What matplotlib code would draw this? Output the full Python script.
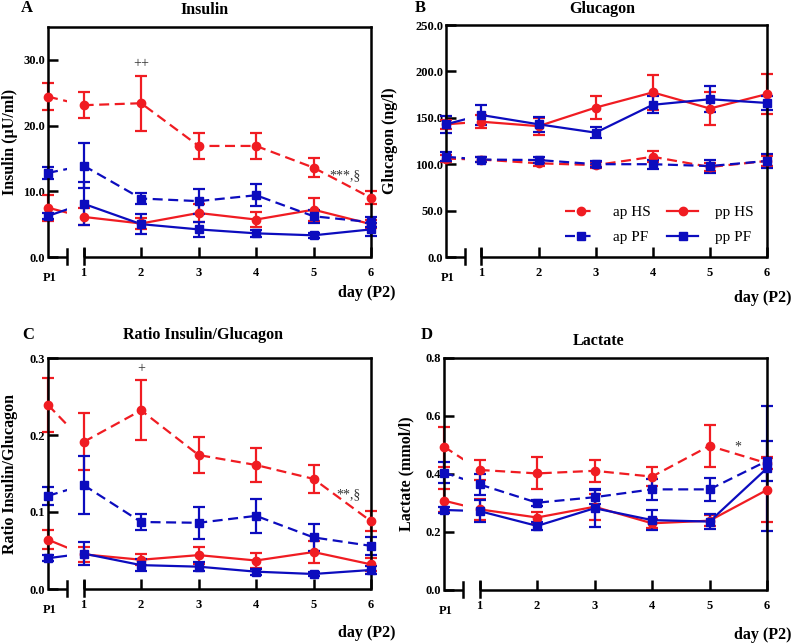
import numpy as np
import matplotlib
matplotlib.use("Agg")
import matplotlib.pyplot as plt
from matplotlib.patches import Rectangle

plt.rcParams['font.family'] = ['Liberation Serif', 'DejaVu Serif']

# x positions: first value is P1, then days 1..6 of P2
days = [1, 2, 3, 4, 5, 6]
day_labels = ["1", "2", "3", "4", "5", "6"]
x_p1 = 0.38
x_break = 0.71

# Insulin (uU/ml)
ins_ap_hs = [24.4, 23.1, 23.4, 16.9, 16.9, 13.6, 9.0]
ins_ap_hs_err = [2.05, 2.0, 4.2, 1.95, 2.0, 1.45, 1.0]
ins_pp_hs = [7.5, 6.1, 5.1, 6.7, 5.7, 7.2, 5.0]
ins_pp_hs_err = [2.0, 1.3, 0.8, 1.4, 1.2, 1.75, 0.6]
ins_ap_pf = [12.8, 13.9, 8.9, 8.5, 9.4, 6.2, 5.3]
ins_ap_pf_err = [0.95, 3.4, 0.85, 1.9, 1.7, 1.0, 0.8]
ins_pp_pf = [6.25, 8.1, 5.0, 4.2, 3.6, 3.3, 4.2]
ins_pp_pf_err = [0.5, 3.3, 1.5, 1.2, 0.5, 0.4, 1.0]

# Glucagon (ng/l)
glu_ap_hs = [106, 105, 101, 99, 108, 97, 103.5]
glu_ap_hs_err = [4, 3, 3, 3, 6, 4, 5]
glu_pp_hs = [143, 145.8, 141, 161, 177.4, 160, 175.6]
glu_pp_hs_err = [5, 7, 9, 12, 19, 18, 22]
glu_ap_pf = [108, 105, 104.5, 100, 100, 98, 103.5]
glu_ap_pf_err = [5, 3, 3, 3, 5, 7, 8]
glu_pp_pf = [143, 153, 143, 134, 164, 170, 166]
glu_pp_pf_err = [9, 11, 8, 6, 9, 14, 8]

# Ratio insulin/glucagon
rat_ap_hs = [0.239, 0.191, 0.232, 0.174, 0.161, 0.143, 0.088]
rat_ap_hs_err = [0.035, 0.037, 0.039, 0.023, 0.0225, 0.018, 0.013]
rat_pp_hs = [0.064, 0.045, 0.038, 0.044, 0.037, 0.048, 0.032]
rat_pp_hs_err = [0.012, 0.01, 0.007, 0.011, 0.01, 0.014, 0.008]
rat_ap_pf = [0.121, 0.135, 0.087, 0.086, 0.095, 0.067, 0.056]
rat_ap_pf_err = [0.012, 0.038, 0.01, 0.021, 0.022, 0.017, 0.012]
rat_pp_pf = [0.040, 0.046, 0.031, 0.029, 0.0225, 0.0195, 0.0247]
rat_pp_pf_err = [0.004, 0.015, 0.008, 0.006, 0.004, 0.003, 0.005]

# Lactate (mmol/l)
lac_ap_hs = [0.494, 0.414, 0.402, 0.411, 0.391, 0.497, 0.437]
lac_ap_hs_err = [0.069, 0.035, 0.055, 0.038, 0.034, 0.072, 0.02]
lac_pp_hs = [0.308, 0.278, 0.25, 0.287, 0.23, 0.239, 0.345]
lac_pp_hs_err = [0.04, 0.035, 0.02, 0.045, 0.015, 0.02, 0.11]
lac_ap_pf = [0.405, 0.364, 0.301, 0.32, 0.347, 0.347, 0.445]
lac_ap_pf_err = [0.036, 0.035, 0.01, 0.025, 0.037, 0.04, 0.07]
lac_pp_pf = [0.276, 0.272, 0.221, 0.282, 0.241, 0.236, 0.42]
lac_pp_pf_err = [0.01, 0.038, 0.015, 0.065, 0.034, 0.025, 0.215]

RED = '#f01c22'
BLUE = '#0c0cbe'
DASH = (0, (4.5, 2.5))


def series(ax, vals, errs, color, marker, ls, label, ms):
    xs = [x_p1] + days
    # P1 -> day 1 connection, cut at the axis break
    seg, = ax.plot([x_p1, 1], vals[:2], color=color, ls=ls, lw=1.6)
    seg.set_clip_path(Rectangle((x_p1, 0), x_break - x_p1, 1,
                                transform=ax.get_xaxis_transform()))
    ax.plot(days, vals[1:], color=color, ls=ls, lw=1.6)
    eb = ax.errorbar(xs, vals, yerr=errs, fmt='none', ecolor=color,
                     elinewidth=1.6, capsize=4, capthick=1.6)
    for art in eb.lines[1] + eb.lines[2]:
        art.set_clip_on(False)
    ax.plot(xs, vals, ls='none', marker=marker, color=color, ms=ms,
            clip_on=False, zorder=4)
    # legend proxy
    h, = ax.plot([], [], color=color, ls=ls, lw=1.6, marker=marker, ms=ms, label=label)
    return h


def panel(rect, data, ylim, yticks, yfmt, ylabel, ylab_x):
    ax = fig.add_axes(rect)
    (a1, e1), (a2, e2), (a3, e3), (a4, e4) = data
    h1 = series(ax, a1, e1, RED, 'o', DASH, 'ap HS', 6)
    h2 = series(ax, a2, e2, RED, 'o', '-', 'pp HS', 6)
    h3 = series(ax, a3, e3, BLUE, 's', DASH, 'ap PF', 6)
    h4 = series(ax, a4, e4, BLUE, 's', '-', 'pp PF', 6)
    ax.handles = [h1, h3, h2, h4]
    ax.set_xlim(x_p1, 6)
    ax.set_ylim(*ylim)
    ax.set_yticks(yticks)
    ax.set_yticklabels([yfmt.format(v) for v in yticks])
    ax.set_xticks(days)
    ax.set_xticklabels(day_labels)
    for s in ['left', 'top', 'right']:
        ax.spines[s].set_linewidth(1.8)
    ax.spines['bottom'].set_visible(False)
    tr = ax.get_xaxis_transform()
    for xa, xb in [(x_p1, x_break), (1, 6)]:
        ax.plot([xa, xb], [0, 0], color='black', lw=1.8, transform=tr,
                clip_on=False, solid_capstyle='butt')
    for xv in [x_break, 1]:
        ax.plot([xv, xv], [-0.03, 0.035], color='black', lw=1.8, transform=tr,
                clip_on=False)
    ax.tick_params(direction='in', width=1.8, length=7, labelsize=9)
    ax.tick_params(axis='x', pad=7)
    ax.tick_params(axis='y', pad=2)
    for lab in ax.get_xticklabels() + ax.get_yticklabels():
        lab.set_fontweight('bold')
    ax.text(x_p1 + 0.03, -0.09, 'P1', transform=tr, ha='center', va='center',
            fontsize=9, fontweight='bold')
    ax.set_ylabel(ylabel, fontsize=11.5, fontweight='bold', va='center')
    ax.yaxis.set_label_coords(ylab_x, 0.5)
    return ax


fig = plt.figure(figsize=(7.93, 6.44), dpi=100)


def fx(px):
    return px / 793


def fy(py):
    return 1 - py / 644


axA = panel([fx(48), fy(257), fx(323), 230 / 644],
            [(ins_ap_hs, ins_ap_hs_err), (ins_pp_hs, ins_pp_hs_err),
             (ins_ap_pf, ins_ap_pf_err), (ins_pp_pf, ins_pp_pf_err)],
            (0, 35), [0, 10, 20, 30], '{:.1f}', 'Insulin (µU/ml)', -0.118)
axB = panel([fx(446), fy(257), fx(321), 232 / 644],
            [(glu_ap_hs, glu_ap_hs_err), (glu_pp_hs, glu_pp_hs_err),
             (glu_ap_pf, glu_ap_pf_err), (glu_pp_pf, glu_pp_pf_err)],
            (0, 250), [0, 50, 100, 150, 200, 250], '{:.1f}', 'Glucagon (ng/l)', -0.174)
axC = panel([fx(48), fy(589), fx(323), 231 / 644],
            [(rat_ap_hs, rat_ap_hs_err), (rat_pp_hs, rat_pp_hs_err),
             (rat_ap_pf, rat_ap_pf_err), (rat_pp_pf, rat_pp_pf_err)],
            (0, 0.3), [0, 0.1, 0.2, 0.3], '{:.1f}', 'Ratio Insulin/Glucagon', -0.118)
axD = panel([fx(444), fy(590), fx(323), 232 / 644],
            [(lac_ap_hs, lac_ap_hs_err), (lac_pp_hs, lac_pp_hs_err),
             (lac_ap_pf, lac_ap_pf_err), (lac_pp_pf, lac_pp_pf_err)],
            (0, 0.8), [0, 0.2, 0.4, 0.6, 0.8], '{:.1f}', 'Lactate (mmol/l)', -0.115)

# titles, panel letters, x labels
for letter, lx, ly in [('A', 27, 8), ('B', 420, 8), ('C', 28, 335), ('D', 427, 335)]:
    fig.text(fx(lx), fy(ly), letter, ha='center', va='center', fontsize=12, fontweight='bold')
for title, tx, ty in [('Insulin', 205, 10), ('Glucagon', 602, 9),
                      ('Ratio Insulin/Glucagon', 203, 335), ('Lactate', 599, 341)]:
    fig.text(fx(tx), fy(ty), title, ha='center', va='center', fontsize=11.5, fontweight='bold')
for xr, yl in [(396, 293), (792, 298), (396, 633), (792, 635)]:
    fig.text(fx(xr), fy(yl), 'day (P2)', ha='right', va='center', fontsize=11.5, fontweight='bold')

# significance marks
axA.text(2, 29.5, '++', ha='center', va='center', fontsize=10, color='#333333')
axA.text(5.55, 12.4, '***,§', ha='center', va='center', fontsize=10, color='#333333')
axC.text(2, 0.286, '+', ha='center', va='center', fontsize=10, color='#333333')
axC.text(5.6, 0.123, '**,§', ha='center', va='center', fontsize=10, color='#333333')
axD.text(5.5, 0.493, '*', ha='center', va='center', fontsize=10, color='#333333')

axB.legend(handles=axB.handles, loc='lower right', ncol=2, frameon=False,
           fontsize=11, handlelength=2.0, handletextpad=1.1,
           columnspacing=1.1, labelspacing=0.75,
           bbox_to_anchor=(1.0, -0.005))

fig.savefig('out.png', dpi=100)
